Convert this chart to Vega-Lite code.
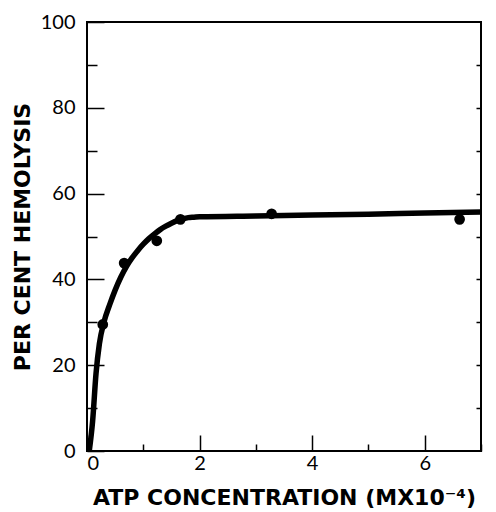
{
  "$schema": "https://vega.github.io/schema/vega-lite/v6.json",
  "width": 394,
  "height": 429,
  "autosize": {"type": "none"},
  "padding": {"left": 87, "top": 22, "right": 15, "bottom": 61},
  "background": "white",
  "config": {
    "view": {"stroke": "black", "strokeWidth": 2},
    "axis": {
      "domain": false,
      "grid": false,
      "tickColor": "black",
      "tickWidth": 1.5,
      "labelFont": "Lato",
      "labelFontSize": 20,
      "labelColor": "black",
      "titleFont": "DejaVu Sans",
      "titleFontWeight": "bold",
      "titleFontSize": 22,
      "titleColor": "black"
    }
  },
  "datasets": {
    "curve": [
      {"x": 0.04, "y": 0},
      {"x": 0.1, "y": 7},
      {"x": 0.16, "y": 18},
      {"x": 0.22, "y": 25},
      {"x": 0.3, "y": 30},
      {"x": 0.4, "y": 34},
      {"x": 0.5, "y": 37.5},
      {"x": 0.6, "y": 40.5},
      {"x": 0.7, "y": 43},
      {"x": 0.8, "y": 45},
      {"x": 0.9, "y": 46.7},
      {"x": 1.0, "y": 48.2},
      {"x": 1.1, "y": 49.5},
      {"x": 1.2, "y": 50.6},
      {"x": 1.3, "y": 51.6},
      {"x": 1.4, "y": 52.4},
      {"x": 1.5, "y": 53.1},
      {"x": 1.6, "y": 53.7},
      {"x": 1.7, "y": 54.1},
      {"x": 1.8, "y": 54.4},
      {"x": 1.9, "y": 54.5},
      {"x": 2.0, "y": 54.6},
      {"x": 3.0, "y": 54.8},
      {"x": 4.0, "y": 55.0},
      {"x": 5.0, "y": 55.2},
      {"x": 6.0, "y": 55.5},
      {"x": 7.0, "y": 55.7}
    ],
    "points": [
      {"x": 0.28, "y": 29.5},
      {"x": 0.66, "y": 43.8},
      {"x": 1.24, "y": 49},
      {"x": 1.66, "y": 54},
      {"x": 3.28, "y": 55.3},
      {"x": 6.62, "y": 54}
    ]
  },
  "resolve": {"axis": {"y": "independent", "x": "independent"}},
  "layer": [
    {
      "data": {"name": "curve"},
      "mark": {"type": "line", "color": "black", "strokeWidth": 5.5, "interpolate": "monotone", "clip": true},
      "encoding": {
        "x": {
          "field": "x", "type": "quantitative",
          "scale": {"domain": [0, 7], "nice": false},
          "axis": {
            "title": "ATP CONCENTRATION (MX10⁻⁴)",
            "values": [0, 1, 2, 3, 4, 5, 6, 7],
            "labelExpr": "datum.value % 2 === 0 && datum.value < 7 ? datum.label : ''",
            "tickSize": {"condition": {"test": "datum.value % 2 === 0", "value": -16}, "value": -7},
            "labelPadding": 18,
            "titlePadding": 14
          }
        },
        "y": {
          "field": "y", "type": "quantitative",
          "scale": {"domain": [0, 100], "nice": false},
          "axis": {
            "title": "PER CENT HEMOLYSIS",
            "values": [0, 10, 20, 30, 40, 50, 60, 70, 80, 90, 100],
            "labelExpr": "datum.value % 20 === 0 ? datum.label : ''",
            "tickSize": {"condition": {"test": "datum.value % 20 === 0", "value": -17}, "value": -10},
            "labelPadding": 29,
            "titlePadding": 6
          }
        }
      }
    },
    {
      "data": {"name": "points"},
      "mark": {"type": "point", "filled": true, "color": "black", "opacity": 1, "size": 115},
      "encoding": {
        "x": {"field": "x", "type": "quantitative", "scale": {"domain": [0, 7], "nice": false}, "axis": null},
        "y": {
          "field": "y", "type": "quantitative",
          "scale": {"domain": [0, 100], "nice": false},
          "axis": {
            "orient": "right",
            "title": null,
            "labels": false,
            "values": [10, 20, 30, 40, 50, 60, 70, 80, 90],
            "tickSize": -5
          }
        }
      }
    }
  ]
}
